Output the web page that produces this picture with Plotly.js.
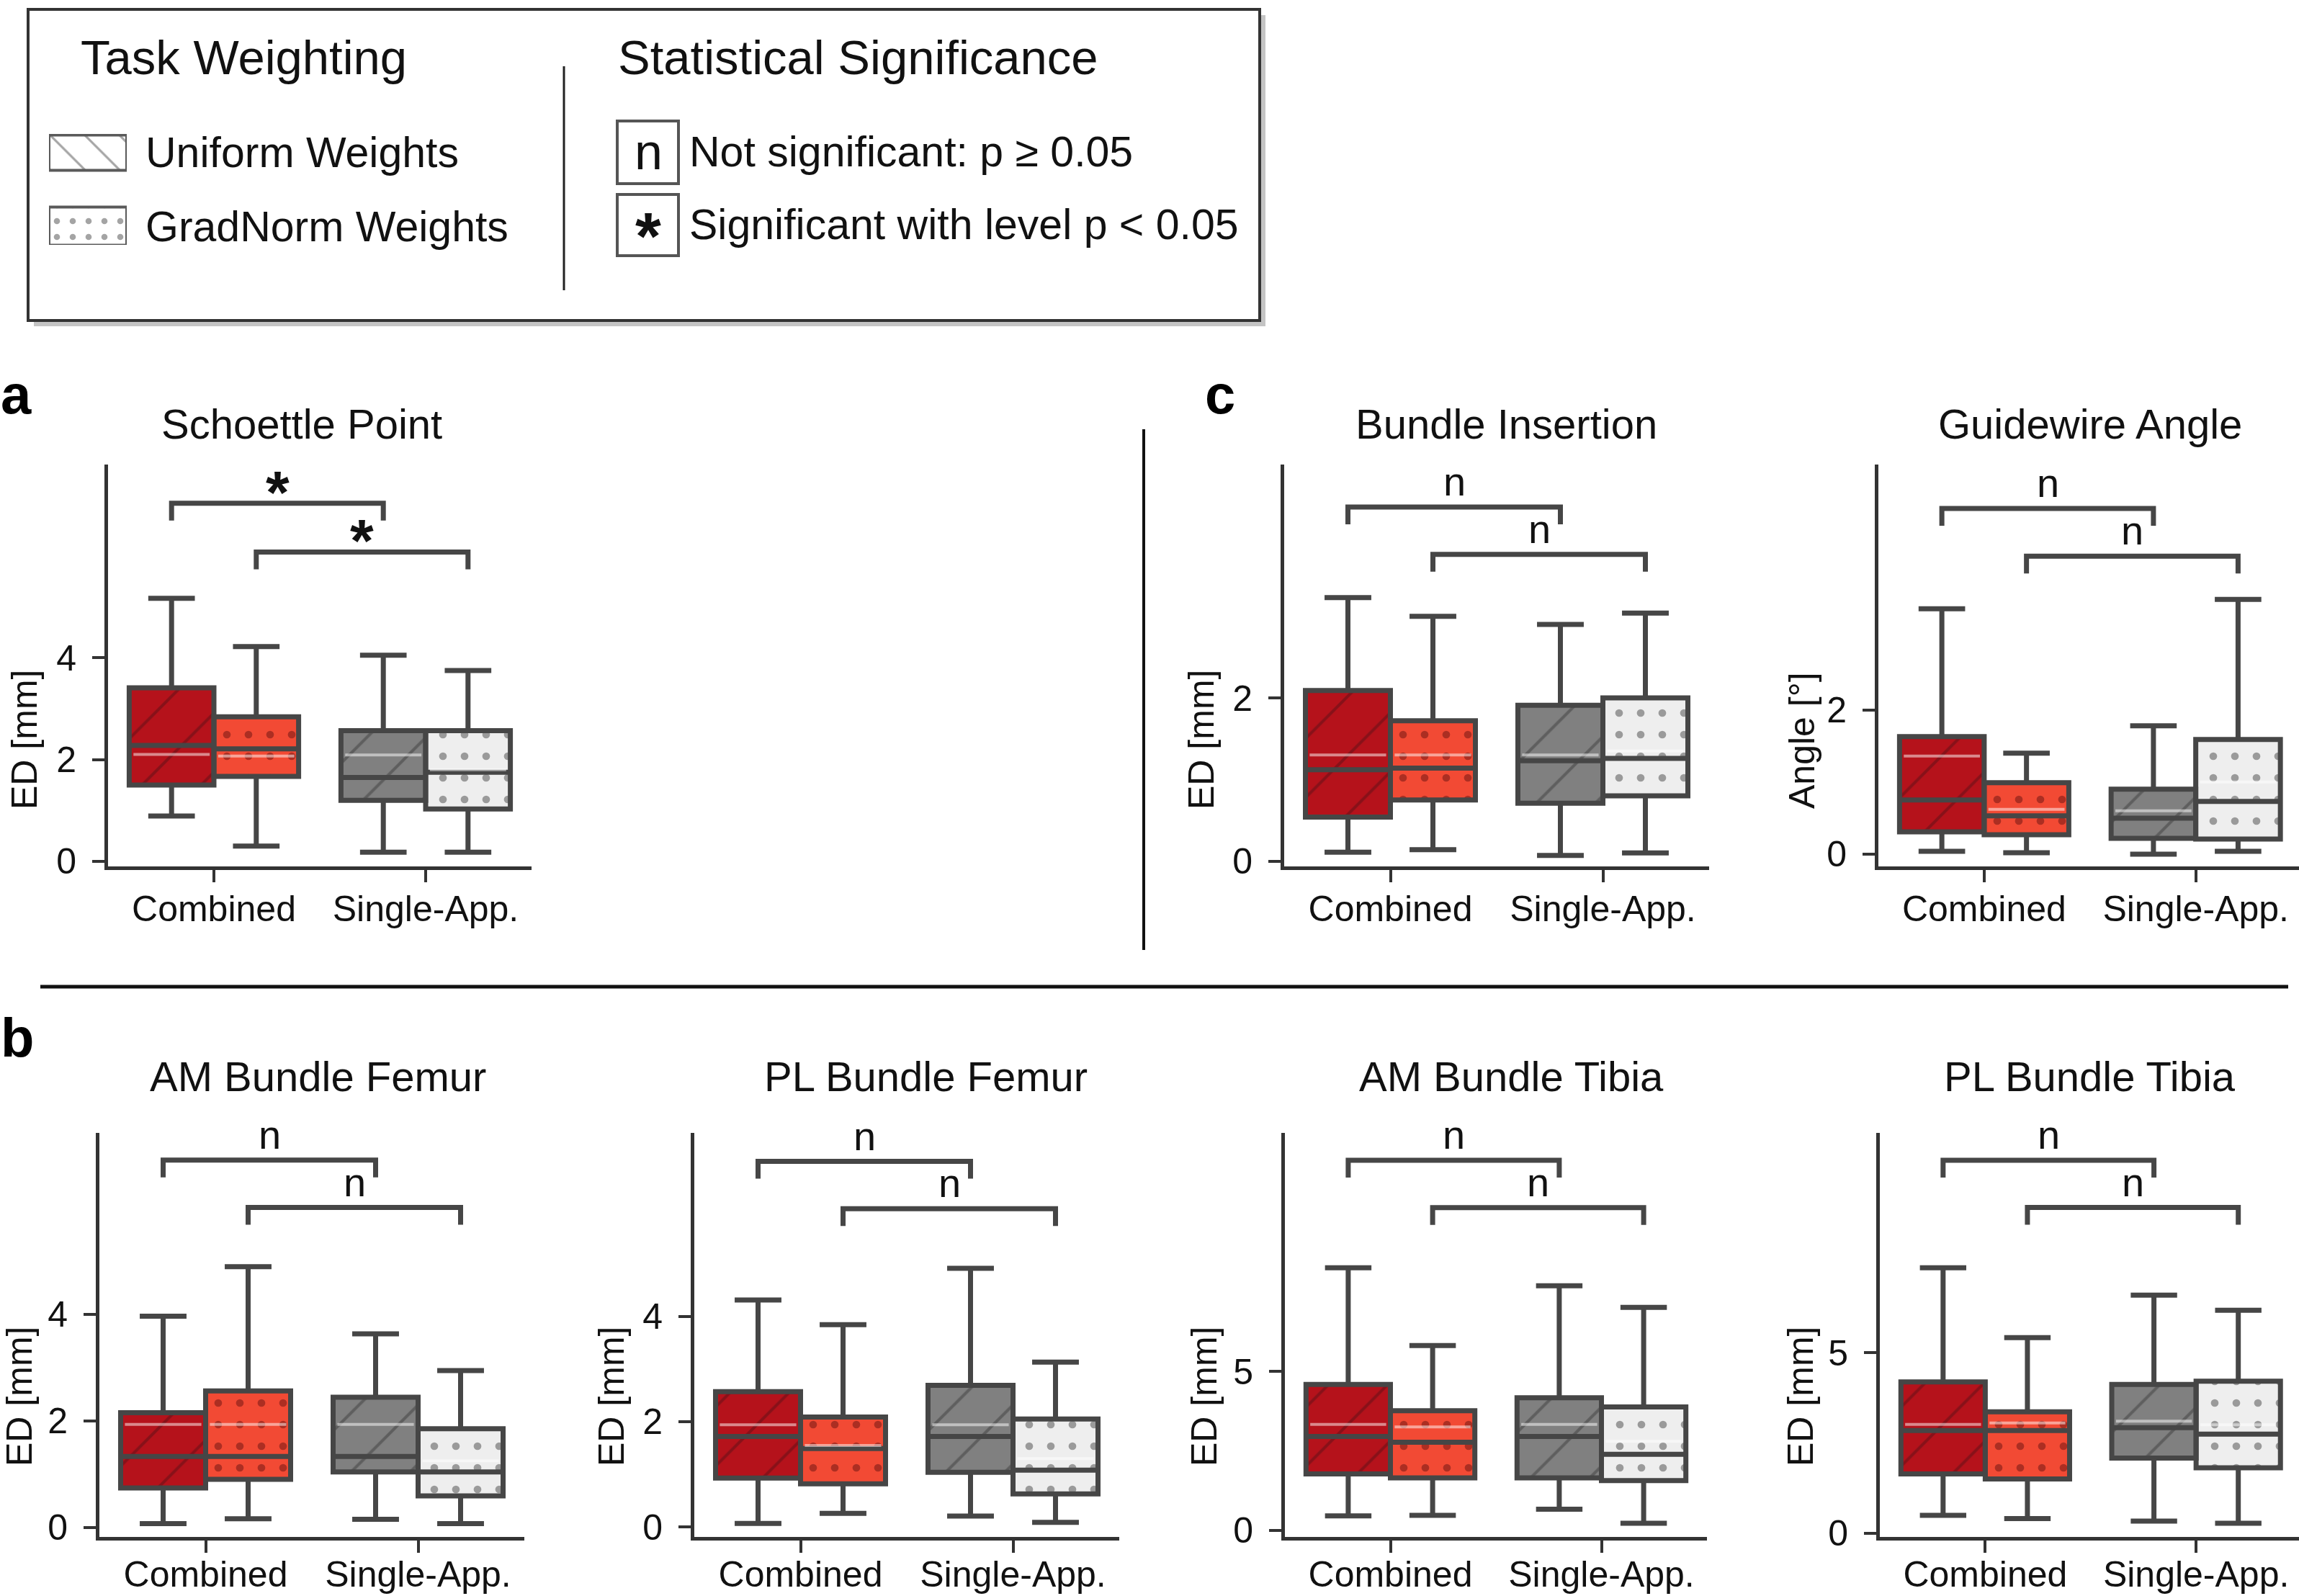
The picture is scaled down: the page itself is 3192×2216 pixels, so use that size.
<!DOCTYPE html>
<html><head><meta charset="utf-8">
<script src="https://cdn.plot.ly/plotly-3.0.1.min.js"></script>
<style>html,body{margin:0;padding:0;background:#fff}#chart{width:3192px;height:2216px}</style>
</head><body><div id="chart"></div>
<script>
// ================= DATA =================
const groupLabels = ['Combined', 'Single-App.'];
const weightingLabels = ['Uniform Weights', 'GradNorm Weights'];
const sigLegendLabels = ['Not significant: p \u2265 0.05', 'Significant with level p < 0.05'];
const legendHeaders = ['Task Weighting', 'Statistical Significance'];
const panelLetters = ['a', 'b', 'c'];
const panelTitles = ['Schoettle Point', 'Bundle Insertion', 'Guidewire Angle',
  'AM Bundle Femur', 'PL Bundle Femur', 'AM Bundle Tibia', 'PL Bundle Tibia'];
const yTitles = ['ED [mm]', 'ED [mm]', 'Angle [\u00b0]', 'ED [mm]', 'ED [mm]', 'ED [mm]', 'ED [mm]'];

// box order: Combined/Uniform, Combined/GradNorm, Single-App./Uniform, Single-App./GradNorm
const schoettleLower  = [0.89, 0.30, 0.18, 0.18];
const schoettleQ1     = [1.50, 1.67, 1.20, 1.03];
const schoettleMedian = [2.28, 2.21, 1.65, 1.75];
const schoettleMean   = [2.10, 2.07, 2.09, 1.80];
const schoettleQ3     = [3.41, 2.84, 2.57, 2.57];
const schoettleUpper  = [5.17, 4.22, 4.05, 3.75];
const schoettleTicks  = [0, 2, 4];
const schoettleBrackets = [7.04, 6.08];
const schoettleSig    = ['*', '*'];

const insertionLower  = [0.11, 0.14, 0.07, 0.10];
const insertionQ1     = [0.54, 0.75, 0.71, 0.80];
const insertionMedian = [1.12, 1.14, 1.23, 1.26];
const insertionMean   = [1.30, 1.30, 1.30, 1.35];
const insertionQ3     = [2.09, 1.72, 1.91, 2.00];
const insertionUpper  = [3.23, 3.00, 2.90, 3.04];
const insertionTicks  = [0, 2];
const insertionBrackets = [4.34, 3.76];
const insertionSig    = ['n', 'n'];

const guidewireLower  = [0.04, 0.02, 0.00, 0.04];
const guidewireQ1     = [0.31, 0.27, 0.22, 0.21];
const guidewireMedian = [0.75, 0.53, 0.50, 0.73];
const guidewireMean   = [1.36, 0.62, 0.60, 1.00];
const guidewireQ3     = [1.63, 0.99, 0.90, 1.59];
const guidewireUpper  = [3.40, 1.40, 1.78, 3.53];
const guidewireTicks  = [0, 2];
const guidewireBrackets = [4.79, 4.13];
const guidewireSig    = ['n', 'n'];

const amFemurLower  = [0.07, 0.16, 0.15, 0.07];
const amFemurQ1     = [0.74, 0.90, 1.04, 0.59];
const amFemurMedian = [1.33, 1.33, 1.33, 1.04];
const amFemurMean   = [1.93, 1.93, 1.93, 1.25];
const amFemurQ3     = [2.15, 2.56, 2.44, 1.85];
const amFemurUpper  = [3.96, 4.89, 3.63, 2.94];
const amFemurTicks  = [0, 2, 4];
const amFemurBrackets = [6.89, 6.00];
const amFemurSig    = ['n', 'n'];

const plFemurLower  = [0.07, 0.26, 0.21, 0.09];
const plFemurQ1     = [0.93, 0.82, 1.04, 0.63];
const plFemurMedian = [1.72, 1.49, 1.72, 1.08];
const plFemurMean   = [1.94, 1.55, 1.94, 1.30];
const plFemurQ3     = [2.57, 2.09, 2.69, 2.05];
const plFemurUpper  = [4.31, 3.84, 4.91, 3.13];
const plFemurTicks  = [0, 2, 4];
const plFemurBrackets = [6.94, 6.04];
const plFemurSig    = ['n', 'n'];

const amTibiaLower  = [0.45, 0.47, 0.66, 0.22];
const amTibiaQ1     = [1.77, 1.65, 1.65, 1.56];
const amTibiaMedian = [2.95, 2.77, 2.95, 2.39];
const amTibiaMean   = [3.33, 3.25, 3.33, 2.80];
const amTibiaQ3     = [4.59, 3.76, 4.17, 3.88];
const amTibiaUpper  = [8.26, 5.81, 7.69, 7.01];
const amTibiaTicks  = [0, 5];
const amTibiaBrackets = [11.64, 10.15];
const amTibiaSig    = ['n', 'n'];

const plTibiaLower  = [0.49, 0.40, 0.33, 0.27];
const plTibiaQ1     = [1.64, 1.50, 2.08, 1.81];
const plTibiaMedian = [2.84, 2.84, 2.92, 2.74];
const plTibiaMean   = [3.01, 3.05, 3.10, 3.00];
const plTibiaQ3     = [4.19, 3.36, 4.12, 4.21];
const plTibiaUpper  = [7.36, 5.42, 6.60, 6.18];
const plTibiaTicks  = [0, 5];
const plTibiaBrackets = [10.34, 9.03];
const plTibiaSig    = ['n', 'n'];

// ================= LAYOUT / STYLE =================
const W = 3192, H = 2216;
const fx = p => p / W;
const fy = p => 1 - p / H;
const FONT = 'Liberation Sans, Arial, Helvetica, sans-serif';
const EDGE = '#464646';
const AXC = '#333333';
const fills = ['#b5121b', '#f24a34', '#808080', '#eeeeee'];
const hatchColors = ['rgba(60,15,20,0.75)', '', 'rgba(35,35,35,0.75)', ''];
const dotColors = ['', 'rgba(95,15,15,0.95)', '', 'rgba(60,60,60,0.95)'];

const panels = [
  {lo: schoettleLower, q1: schoettleQ1, med: schoettleMedian, mean: schoettleMean, q3: schoettleQ3, hi: schoettleUpper, ticks: schoettleTicks, br: schoettleBrackets, sig: schoettleSig,
   px: [150, 738], py: [645, 1203], yr: [-0.1, 7.8], xr: [-0.5, 1.5], tpos: [419, 588], ypos: [34, 1027], xstand: -6},
  {lo: insertionLower, q1: insertionQ1, med: insertionMedian, mean: insertionMean, q3: insertionQ3, hi: insertionUpper, ticks: insertionTicks, br: insertionBrackets, sig: insertionSig,
   px: [1783, 2373], py: [645, 1203], yr: [-0.065, 4.86], xr: [-0.5, 1.5], tpos: [2091, 588], ypos: [1668, 1027], xstand: -6},
  {lo: guidewireLower, q1: guidewireQ1, med: guidewireMedian, mean: guidewireMean, q3: guidewireQ3, hi: guidewireUpper, ticks: guidewireTicks, br: guidewireBrackets, sig: guidewireSig,
   px: [2608, 3192], py: [645, 1203], yr: [-0.17, 5.4], xr: [-0.5, 1.488], tpos: [2902, 588], ypos: [2502, 1028], xstand: -6},
  {lo: amFemurLower, q1: amFemurQ1, med: amFemurMedian, mean: amFemurMean, q3: amFemurQ3, hi: amFemurUpper, ticks: amFemurTicks, br: amFemurBrackets, sig: amFemurSig,
   px: [138, 728], py: [1573, 2134], yr: [-0.18, 7.4], xr: [-0.5, 1.5], tpos: [441, 1494], ypos: [27, 1939], xstand: -13},
  {lo: plFemurLower, q1: plFemurQ1, med: plFemurMedian, mean: plFemurMean, q3: plFemurQ3, hi: plFemurUpper, ticks: plFemurTicks, br: plFemurBrackets, sig: plFemurSig,
   px: [964, 1554], py: [1573, 2134], yr: [-0.187, 7.48], xr: [-0.5, 1.5], tpos: [1285, 1494], ypos: [849, 1939], xstand: -13},
  {lo: amTibiaLower, q1: amTibiaQ1, med: amTibiaMedian, mean: amTibiaMean, q3: amTibiaQ3, hi: amTibiaUpper, ticks: amTibiaTicks, br: amTibiaBrackets, sig: amTibiaSig,
   px: [1784, 2370], py: [1573, 2134], yr: [-0.21, 12.5], xr: [-0.5, 1.5], tpos: [2098, 1494], ypos: [1672, 1939], xstand: -13},
  {lo: plTibiaLower, q1: plTibiaQ1, med: plTibiaMedian, mean: plTibiaMean, q3: plTibiaQ3, hi: plTibiaUpper, ticks: plTibiaTicks, br: plTibiaBrackets, sig: plTibiaSig,
   px: [2610, 3192], py: [1573, 2134], yr: [-0.11, 11.1], xr: [-0.5, 1.488], tpos: [2901, 1494], ypos: [2500, 1939], xstand: -13}
];

const groupCenters = [0, 1];
const boxOffsets = [-0.2, 0.2];
const boxW = 0.4;

const data = [];
const annotations = [];
const layout = {
  width: W, height: H,
  margin: {l: 0, r: 0, t: 0, b: 0, pad: 0},
  paper_bgcolor: '#ffffff', plot_bgcolor: 'rgba(0,0,0,0)',
  showlegend: false, hovermode: false,
  barmode: 'overlay', boxmode: 'overlay',
  font: {family: FONT, color: '#111111'},
  shapes: [], annotations: annotations
};

panels.forEach((p, i) => {
  const n = i + 1;
  const xa = 'x' + n, ya = 'y' + n;
  layout['xaxis' + n] = {
    domain: [fx(p.px[0]), fx(p.px[1])], range: p.xr, anchor: ya,
    showline: true, linecolor: AXC, linewidth: 5,
    ticks: 'outside', ticklen: 17, tickwidth: 4, tickcolor: AXC,
    tickvals: groupCenters, ticktext: groupLabels, ticklabelstandoff: p.xstand,
    tickfont: {family: FONT, size: 50, color: '#111111'},
    showgrid: false, zeroline: false, fixedrange: true
  };
  layout['yaxis' + n] = {
    domain: [fy(p.py[1]), fy(p.py[0])], range: p.yr, anchor: xa,
    showline: true, linecolor: AXC, linewidth: 5,
    ticks: 'outside', ticklen: 17, tickwidth: 4, tickcolor: AXC,
    tickvals: p.ticks, ticklabelstandoff: 12,
    tickfont: {family: FONT, size: 50, color: '#111111'},
    showgrid: false, zeroline: false, fixedrange: true
  };
  const pxPerUnit = (p.py[1] - p.py[0]) / (p.yr[1] - p.yr[0]);
  for (let b = 0; b < 4; b++) {
    const pos = groupCenters[Math.floor(b / 2)] + boxOffsets[b % 2];
    const uniform = (b % 2 === 0);
    const pattern = uniform
      ? {shape: '/', size: 58, solidity: 0.07, fgcolor: hatchColors[b], bgcolor: fills[b], fillmode: 'overlay'}
      : {shape: '.', size: 30, solidity: 0.1, fgcolor: dotColors[b], bgcolor: fills[b], fillmode: 'overlay'};
    data.push({
      type: 'bar', xaxis: xa, yaxis: ya, orientation: 'v',
      x: [pos], y: [p.q3[b] - p.q1[b]], base: [p.q1[b]], width: [boxW],
      marker: {color: fills[b], line: {width: 0}, pattern: pattern},
      hoverinfo: 'skip'
    });
    data.push({
      type: 'box', xaxis: xa, yaxis: ya, orientation: 'v',
      x: [pos], q1: [p.q1[b]], median: [p.med[b]], q3: [p.q3[b]],
      lowerfence: [p.lo[b]], upperfence: [p.hi[b]],
      width: boxW, whiskerwidth: 0.55, boxpoints: false,
      fillcolor: 'rgba(0,0,0,0)', line: {color: EDGE, width: 7},
      hoverinfo: 'skip'
    });
    data.push({
      type: 'scatter', mode: 'lines', xaxis: xa, yaxis: ya,
      x: [pos - boxW / 2 + 0.02, pos + boxW / 2 - 0.02], y: [p.mean[b], p.mean[b]],
      line: {color: 'rgba(255,255,255,0.5)', width: 4}, hoverinfo: 'skip'
    });
  }
  // significance brackets
  const drop = 24 / pxPerUnit;
  const spans = [[groupCenters[0] + boxOffsets[0], groupCenters[1] + boxOffsets[0]],
                 [groupCenters[0] + boxOffsets[1], groupCenters[1] + boxOffsets[1]]];
  spans.forEach((s, k) => {
    const h = p.br[k];
    data.push({
      type: 'scatter', mode: 'lines', xaxis: xa, yaxis: ya,
      x: [s[0], s[0], s[1], s[1]], y: [h - drop, h, h, h - drop],
      line: {color: EDGE, width: 7}, hoverinfo: 'skip'
    });
    const star = p.sig[k] === '*';
    annotations.push({
      xref: xa, yref: ya, x: (s[0] + s[1]) / 2, y: h,
      text: star ? '<b>*</b>' : p.sig[k], showarrow: false, xanchor: 'center', yanchor: 'bottom',
      yshift: star ? -34 : 2,
      font: {family: FONT, size: star ? 84 : 56, color: '#111111'}
    });
  });
  // titles
  annotations.push({xref: 'paper', yref: 'paper', x: fx(p.tpos[0]), y: fy(p.tpos[1]), text: panelTitles[i],
    showarrow: false, xanchor: 'center', yanchor: 'middle', font: {family: FONT, size: 58, color: '#111111'}});
  annotations.push({xref: 'paper', yref: 'paper', x: fx(p.ypos[0]), y: fy(p.ypos[1]), text: yTitles[i], textangle: -90,
    showarrow: false, xanchor: 'center', yanchor: 'middle', font: {family: FONT, size: 50, color: '#111111'}});
});

// panel letters
const letterPos = [[22, 548], [24, 1440], [1694, 548]];
panelLetters.forEach((l, k) => {
  annotations.push({xref: 'paper', yref: 'paper', x: fx(letterPos[k][0]), y: fy(letterPos[k][1]),
    text: '<b>' + l + '</b>', showarrow: false, xanchor: 'center', yanchor: 'middle',
    font: {family: FONT, size: 76, color: '#000000'}});
});

// dividers
layout.shapes.push({type: 'line', xref: 'paper', yref: 'paper', x0: fx(1588), x1: fx(1588), y0: fy(596), y1: fy(1319), line: {color: '#111111', width: 4}});
layout.shapes.push({type: 'line', xref: 'paper', yref: 'paper', x0: fx(56), x1: fx(3177), y0: fy(1370), y1: fy(1370), line: {color: '#111111', width: 5}});

// legend frame
layout.shapes.push({type: 'rect', layer: 'below', xref: 'paper', yref: 'paper', x0: fx(47), x1: fx(1757), y0: fy(453), y1: fy(21), fillcolor: '#c4c4c4', line: {width: 0}});
layout.shapes.push({type: 'rect', layer: 'below', xref: 'paper', yref: 'paper', x0: fx(39), x1: fx(1749), y0: fy(445), y1: fy(13), fillcolor: '#ffffff', line: {color: '#333333', width: 4}});
layout.shapes.push({type: 'line', xref: 'paper', yref: 'paper', x0: fx(783), x1: fx(783), y0: fy(92), y1: fy(403), line: {color: '#222222', width: 3}});
[[168, 255], [270, 355]].forEach(r => {
  layout.shapes.push({type: 'rect', xref: 'paper', yref: 'paper', x0: fx(857), x1: fx(942), y0: fy(r[1]), y1: fy(r[0]), fillcolor: '#ffffff', line: {color: '#555555', width: 4}});
});
annotations.push({xref: 'paper', yref: 'paper', x: fx(110), y: fy(80), text: legendHeaders[0], showarrow: false, xanchor: 'left', yanchor: 'middle', font: {family: FONT, size: 67, color: '#111111'}});
annotations.push({xref: 'paper', yref: 'paper', x: fx(856), y: fy(80), text: legendHeaders[1], showarrow: false, xanchor: 'left', yanchor: 'middle', font: {family: FONT, size: 67, color: '#111111'}});
[[212, weightingLabels[0]], [315, weightingLabels[1]]].forEach(t => {
  annotations.push({xref: 'paper', yref: 'paper', x: fx(200), y: fy(t[0]), text: t[1], showarrow: false, xanchor: 'left', yanchor: 'middle', font: {family: FONT, size: 59, color: '#111111'}});
});
[[211, sigLegendLabels[0]], [312, sigLegendLabels[1]]].forEach(t => {
  annotations.push({xref: 'paper', yref: 'paper', x: fx(955), y: fy(t[0]), text: t[1], showarrow: false, xanchor: 'left', yanchor: 'middle', font: {family: FONT, size: 59, color: '#111111'}});
});
annotations.push({xref: 'paper', yref: 'paper', x: fx(900), y: fy(211), text: 'n', showarrow: false, xanchor: 'center', yanchor: 'middle', font: {family: FONT, size: 70, color: '#111111'}});
annotations.push({xref: 'paper', yref: 'paper', x: fx(900), y: fy(312), text: '<b>*</b>', showarrow: false, xanchor: 'center', yanchor: 'middle', yshift: -16, font: {family: FONT, size: 92, color: '#111111'}});

// legend swatches (patterned bars in a hidden helper subplot)
layout.xaxis8 = {domain: [fx(68), fx(176)], range: [0, 1], visible: false, anchor: 'y8', fixedrange: true};
layout.yaxis8 = {domain: [fy(340), fy(186)], range: [-0.255, 1.255], visible: false, anchor: 'x8', fixedrange: true};
data.push({type: 'bar', orientation: 'h', xaxis: 'x8', yaxis: 'y8', y: [1], x: [1], base: [0], width: [0.48],
  marker: {color: '#ffffff', line: {color: '#5a5a5a', width: 4}, pattern: {shape: '\\', size: 34, solidity: 0.09, fgcolor: '#4a4a4a', bgcolor: '#ffffff', fillmode: 'overlay'}},
  hoverinfo: 'skip'});
data.push({type: 'bar', orientation: 'h', xaxis: 'x8', yaxis: 'y8', y: [0], x: [1], base: [0], width: [0.52],
  marker: {color: '#ffffff', line: {color: '#5a5a5a', width: 4}, pattern: {shape: '.', size: 22, solidity: 0.12, fgcolor: '#4a4a4a', bgcolor: '#ffffff', fillmode: 'overlay'}},
  hoverinfo: 'skip'});

Plotly.newPlot('chart', data, layout, {displayModeBar: false, staticPlot: true});
</script>
</body></html>
